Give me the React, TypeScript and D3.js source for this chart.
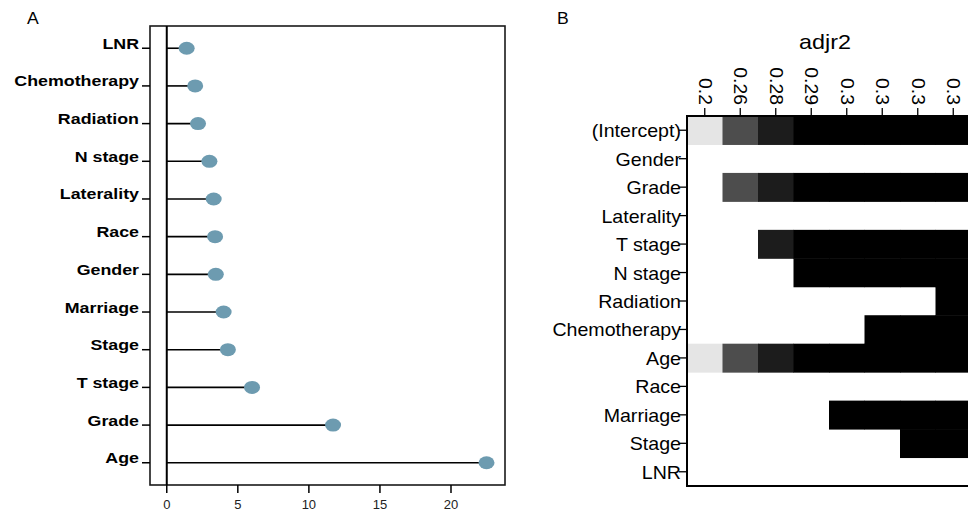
import * as d3 from 'd3';

// Panel A: importance per variable (lollipop)
const lolliVars = ['LNR', 'Chemotherapy', 'Radiation', 'N stage', 'Laterality', 'Race', 'Gender', 'Marriage', 'Stage', 'T stage', 'Grade', 'Age'];
const lolliValues = [1.4, 2.0, 2.2, 3.0, 3.3, 3.4, 3.45, 4.0, 4.3, 6.0, 11.7, 22.5];
const lolliTicks = [0, 5, 10, 15, 20];

// Panel B: best subsets by adjr2
const modelAdjr2 = [0.2, 0.26, 0.28, 0.29, 0.3, 0.3, 0.3, 0.3];
const modelLabels = ['0.2', '0.26', '0.28', '0.29', '0.3', '0.3', '0.3', '0.3'];
const subsetVars = ['(Intercept)', 'Gender', 'Grade', 'Laterality', 'T stage ', 'N stage', 'Radiation', 'Chemotherapy', 'Age', 'Race', 'Marriage', 'Stage', 'LNR'];
const included = [
  [1, 1, 1, 1, 1, 1, 1, 1],
  [0, 0, 0, 0, 0, 0, 0, 0],
  [0, 1, 1, 1, 1, 1, 1, 1],
  [0, 0, 0, 0, 0, 0, 0, 0],
  [0, 0, 1, 1, 1, 1, 1, 1],
  [0, 0, 0, 1, 1, 1, 1, 1],
  [0, 0, 0, 0, 0, 0, 0, 1],
  [0, 0, 0, 0, 0, 1, 1, 1],
  [1, 1, 1, 1, 1, 1, 1, 1],
  [0, 0, 0, 0, 0, 0, 0, 0],
  [0, 0, 0, 0, 1, 1, 1, 1],
  [0, 0, 0, 0, 0, 0, 1, 1],
  [0, 0, 0, 0, 0, 0, 0, 0],
];

const font = '"Liberation Sans", Arial, sans-serif';

// the source figure was stretched a bit sideways, so the text is too
function Txt({ x, y, sx = 1, rot = 0, children, ...rest }: any) {
  return (
    <text transform={`translate(${x},${y}) rotate(${rot}) scale(${sx},1)`} {...rest}>
      {children}
    </text>
  );
}

export default function App() {
  // panel A frame
  const a = { left: 150, right: 505, top: 26, bottom: 485 };
  const x = d3.scaleLinear().domain([-1.18, 23.8]).range([a.left, a.right]);
  const y = d3.scalePoint<string>().domain(lolliVars).range([a.top, a.bottom]).padding(0.59);

  // panel B frame
  const b = { left: 687, top: 116, bottom: 486, colW: 35.5 };
  const cx = d3
    .scaleBand<number>()
    .domain(d3.range(modelAdjr2.length))
    .range([b.left, b.left + b.colW * modelAdjr2.length]);
  const cy = d3.scaleBand<string>().domain(subsetVars).range([b.top, b.bottom]);
  const shade = d3
    .scaleLinear<string>()
    .domain([0.2, 0.26, 0.28, 0.29])
    .range(['#e5e5e5', '#4d4d4d', '#1c1c1c', '#000000'])
    .clamp(true);

  return (
    <svg width={968} height={514} style={{ position: 'absolute', left: 0, top: 0, background: '#fff' }} fontFamily={font}>
      {/* ---- A ---- */}
      <Txt x={27} y={24} sx={1.1} fontSize={16}>A</Txt>
      <rect x={a.left} y={a.top} width={a.right - a.left} height={a.bottom - a.top} fill="none" stroke="#1a1a1a" strokeWidth={1.6} />
      <line x1={x(0)} x2={x(0)} y1={a.top} y2={a.bottom} stroke="#000" strokeWidth={2} />
      {lolliVars.map((v, i) => (
        <g key={v}>
          <line x1={a.left - 8} x2={a.left} y1={y(v)} y2={y(v)} stroke="#000" strokeWidth={1.5} />
          <Txt x={139} y={(y(v) ?? 0) + 0.5} sx={1.15} textAnchor="end" fontSize={15.5} fontWeight="bold">{v}</Txt>
          <line x1={x(0)} x2={x(lolliValues[i])} y1={y(v)} y2={y(v)} stroke="#000" strokeWidth={1.6} />
          <ellipse cx={x(lolliValues[i])} cy={y(v)} rx={8} ry={6.5} fill="#6d9bb0" />
        </g>
      ))}
      {lolliTicks.map((t) => (
        <g key={t}>
          <line x1={x(t)} x2={x(t)} y1={a.bottom} y2={a.bottom + 8} stroke="#000" strokeWidth={1.5} />
          <text x={x(t)} y={a.bottom + 24} textAnchor="middle" fontSize={13} fill="#222">{t}</text>
        </g>
      ))}

      {/* ---- B ---- */}
      <Txt x={557} y={24} sx={1.1} fontSize={16}>B</Txt>
      <Txt x={825} y={49} sx={1.17} textAnchor="middle" fontSize={20}>adjr2</Txt>
      {subsetVars.map((v, r) =>
        included[r].map((on, c) =>
          on ? (
            <rect
              key={`${v}-${c}`}
              x={cx(c)}
              y={cy(v)}
              width={cx.bandwidth() + 0.5}
              height={cy.bandwidth() + 0.5}
              fill={shade(modelAdjr2[c])}
            />
          ) : null
        )
      )}
      <rect
        x={b.left}
        y={b.top}
        width={b.colW * modelAdjr2.length}
        height={b.bottom - b.top}
        fill="none"
        stroke="#000"
        strokeWidth={2}
      />
      {modelLabels.map((l, c) => {
        const px = (cx(c) ?? 0) + cx.bandwidth() / 2;
        return (
          <g key={c}>
            <line x1={px} x2={px} y1={b.top - 8} y2={b.top} stroke="#000" strokeWidth={1.3} />
            <Txt x={px} y={b.top - 11} rot={90} sx={1.08} textAnchor="end" dominantBaseline="central" fontSize={18}>
              {l}
            </Txt>
          </g>
        );
      })}
      {subsetVars.map((v) => {
        const py = (cy(v) ?? 0) + cy.bandwidth() / 2;
        return (
          <g key={v}>
            <line x1={b.left - 8} x2={b.left} y1={py} y2={py} stroke="#000" strokeWidth={1.3} />
            <Txt x={b.left - 6} y={py + 7} sx={1.09} textAnchor="end" fontSize={18}>{v}</Txt>
          </g>
        );
      })}
    </svg>
  );
}
